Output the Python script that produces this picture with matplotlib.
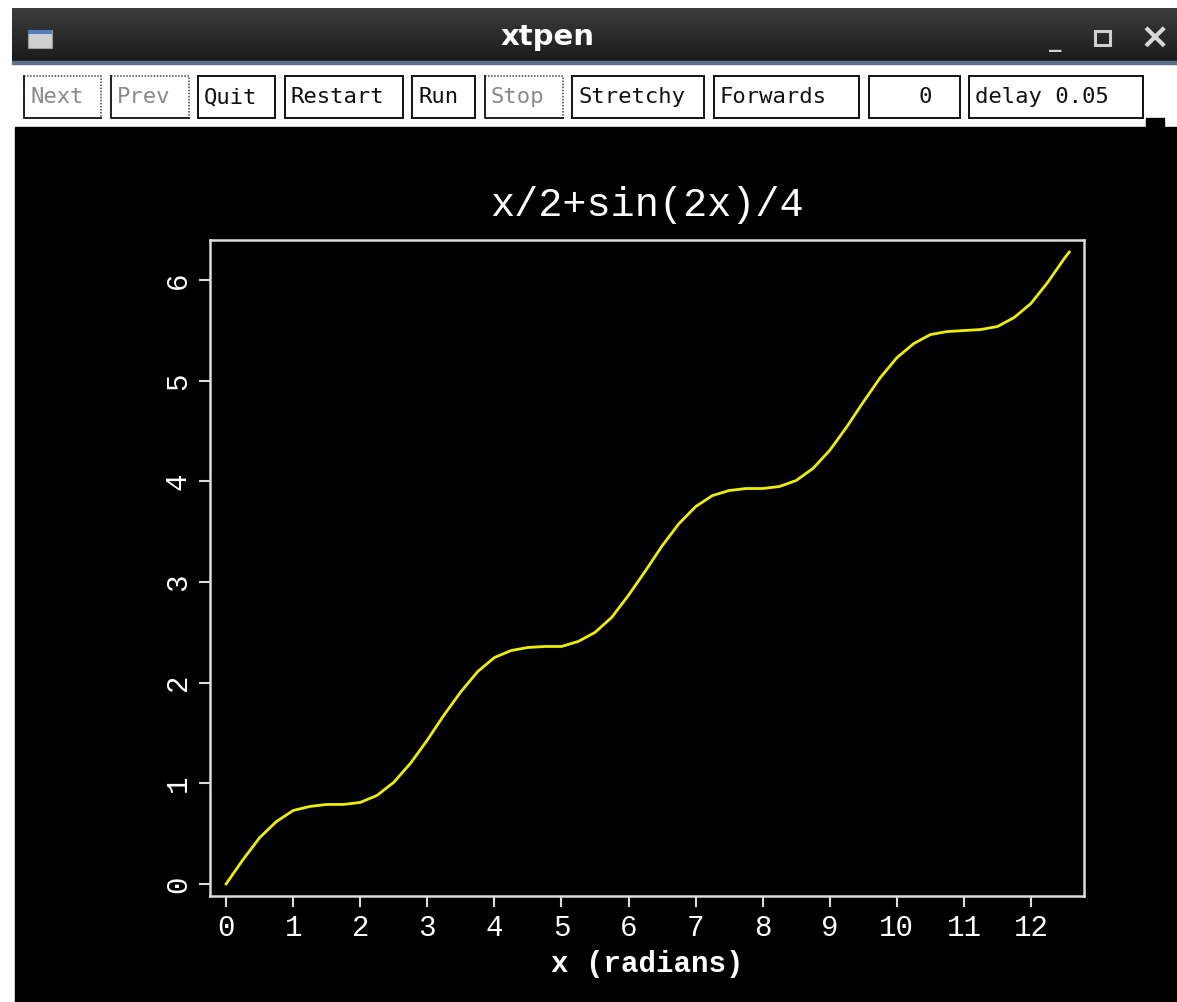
import matplotlib
matplotlib.use("Agg")
import matplotlib.pyplot as plt
from matplotlib.patches import Rectangle
import numpy as np

# ---- data: curve samples of x/2 + sin(2x)/4 over 0..4*pi ----
x_vals = [0.0, 0.25, 0.5, 0.75, 1.0, 1.25, 1.5, 1.75, 2.0, 2.25, 2.5, 2.75,
          3.0, 3.25, 3.5, 3.75, 4.0, 4.25, 4.5, 4.75, 5.0, 5.25, 5.5, 5.75,
          6.0, 6.25, 6.5, 6.75, 7.0, 7.25, 7.5, 7.75, 8.0, 8.25, 8.5, 8.75,
          9.0, 9.25, 9.5, 9.75, 10.0, 10.25, 10.5, 10.75, 11.0, 11.25, 11.5,
          11.75, 12.0, 12.25, 12.5, 12.57]
y_vals = [0.0, 0.24, 0.46, 0.62, 0.73, 0.77, 0.79, 0.79, 0.81, 0.88, 1.01, 1.20,
          1.43, 1.68, 1.91, 2.11, 2.25, 2.32, 2.35, 2.36, 2.36, 2.41, 2.50, 2.65,
          2.87, 3.11, 3.36, 3.58, 3.75, 3.86, 3.91, 3.93, 3.93, 3.95, 4.01, 4.13,
          4.31, 4.54, 4.79, 5.03, 5.23, 5.37, 5.46, 5.49, 5.50, 5.51, 5.54,
          5.63, 5.77, 5.98, 6.22, 6.28]

x_ticks = list(range(0, 13))
y_ticks = list(range(0, 7))
title_text = "x/2+sin(2x)/4"
xlabel_text = "x (radians)"
window_title = "xtpen"

button_labels = ["Next", "Prev", "Quit", "Restart", "Run", "Stop",
                 "Stretchy", "Forwards", "0", "delay 0.05"]
button_enabled = [False, False, True, True, True, False, True, True, True, True]

# ---- layout (pixel coordinates of the window) ----
W, H = 1177, 1002
button_spans = [(24, 101), (111, 189), (198, 275), (285, 403), (412, 475),
                (485, 563), (572, 704), (714, 859), (869, 960), (969, 1143)]

fig = plt.figure(figsize=(W / 100, H / 100), dpi=100)
fig.patch.set_facecolor("white")

chrome = fig.add_axes([0, 0, 1, 1], zorder=0)
chrome.set_xlim(0, W)
chrome.set_ylim(H, 0)
chrome.axis("off")

# title bar with a vertical gradient
grad = np.linspace(0, 1, 64).reshape(-1, 1)
chrome.imshow(grad, extent=(12, W, 63, 8), cmap=matplotlib.colors.LinearSegmentedColormap.from_list(
    "bar", ["#3c3c3c", "#1a1a1a"]), aspect="auto", zorder=1)
chrome.add_patch(Rectangle((12, 61), W - 12, 3, color="#5b6f8c", zorder=2))
# window icon
chrome.add_patch(Rectangle((28, 30), 24, 18, facecolor="#cfcfcf", edgecolor="#9a9a9a", lw=0.8, zorder=2))
chrome.add_patch(Rectangle((28, 30), 24, 4, facecolor="#4f7fc0", edgecolor="none", zorder=3))
chrome.text(548, 37, window_title, color="white", fontsize=21, fontweight="bold",
            family="DejaVu Sans", ha="center", va="center", zorder=3)
chrome.text(1055, 40, "_", color="#d0d0d0", fontsize=18, fontweight="bold",
            ha="center", va="center", zorder=3)
chrome.add_patch(Rectangle((1095, 31), 15, 14, facecolor="none", edgecolor="#d0d0d0", lw=2.2, zorder=3))
chrome.text(1155, 38, "\u00d7", color="#d8d8d8", fontsize=26, fontweight="bold",
            ha="center", va="center", zorder=3)

# toolbar
chrome.add_patch(Rectangle((12, 64), 1150, 63, color="white", zorder=1))
for (x0, x1), label, on in zip(button_spans, button_labels, button_enabled):
    if on:
        chrome.add_patch(Rectangle((x0, 76), x1 - x0, 42, facecolor="white",
                                   edgecolor="#111111", lw=1.4, zorder=2))
        col = "#111111"
    else:
        chrome.add_patch(Rectangle((x0, 76), x1 - x0, 42, facecolor="white",
                                   edgecolor="#444444", lw=1.1, ls=(0, (1, 1)), zorder=2))
        chrome.plot([x0, x0, x1], [76, 118, 118], color="#222222", lw=1.4, zorder=3)
        col = "#8a8a8a"
    if label == "0":
        chrome.text(x1 - 28, 97, label, color=col, fontsize=16, family="DejaVu Sans Mono",
                    ha="right", va="center", zorder=3)
    else:
        chrome.text(x0 + 6, 97, label, color=col, fontsize=16, family="DejaVu Sans Mono",
                    ha="left", va="center", zorder=3)

# drawing canvas
chrome.add_patch(Rectangle((15, 127), W - 15, H - 127, color="black", zorder=1))
chrome.add_patch(Rectangle((1146, 118), 18, 10, color="black", zorder=2))

# ---- plot area ----
left, right, top, bottom = 210, 1084, 240, 896
ax = fig.add_axes([left / W, (H - bottom) / H, (right - left) / W, (bottom - top) / H], zorder=2)
ax.set_facecolor("black")
ax.plot(x_vals, y_vals, color="#eeee00", lw=2.0, solid_joinstyle="round")
ax.set_xlim(-0.24, 12.79)
ax.set_ylim(-0.12, 6.40)

for s in ax.spines.values():
    s.set_color("#dcdcdc")
    s.set_linewidth(1.8)

mono = "Liberation Mono"
ax.set_xticks(x_ticks)
ax.set_yticks(y_ticks)
ax.set_xticklabels([str(v) for v in x_ticks], family=mono, fontsize=21, color="white")
ax.set_yticklabels([str(v) for v in y_ticks], family=mono, fontsize=21, color="white",
                   rotation=90, va="center")
ax.tick_params(axis="both", direction="out", length=8, width=1.5, color="#dcdcdc", pad=5)

ax.set_title(title_text, family=mono, fontsize=29, color="white", pad=17)
ax.set_xlabel(xlabel_text, family=mono, fontsize=21, fontweight="bold", color="white")
ax.xaxis.set_label_coords(0.5, -0.082)
ax.xaxis.label.set_va("top")

fig.savefig("out.png", dpi=100, facecolor=fig.get_facecolor())
